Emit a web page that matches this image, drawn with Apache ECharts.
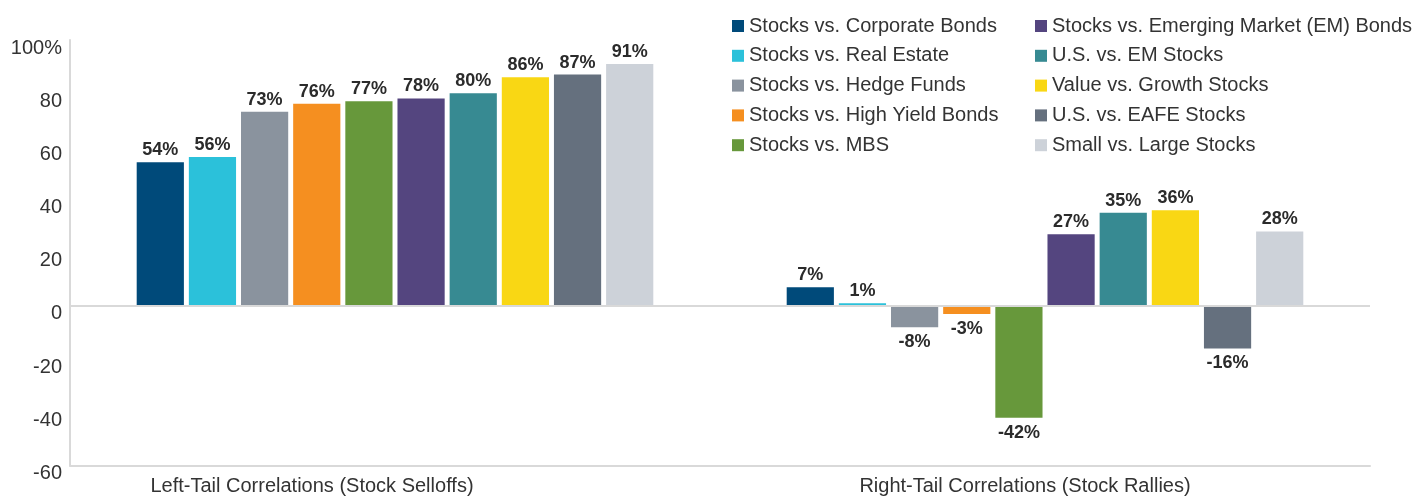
<!DOCTYPE html>
<html>
<head>
<meta charset="utf-8">
<script src="https://cdn.jsdelivr.net/npm/echarts@6/dist/echarts.min.js"></script>
<style>
html,body{margin:0;padding:0;background:#fff;}
#chart{width:1416px;height:502px;}
</style>
</head>
<body>
<div id="chart"></div>
<script>
// ---- Data ----
const categories = ['Left-Tail Correlations (Stock Selloffs)', 'Right-Tail Correlations (Stock Rallies)'];
const seriesNames = [
  'Stocks vs. Corporate Bonds',
  'Stocks vs. Real Estate',
  'Stocks vs. Hedge Funds',
  'Stocks vs. High Yield Bonds',
  'Stocks vs. MBS',
  'Stocks vs. Emerging Market (EM) Bonds',
  'U.S. vs. EM Stocks',
  'Value vs. Growth Stocks',
  'U.S. vs. EAFE Stocks',
  'Small vs. Large Stocks'
];
const leftTail  = [54, 56, 73, 76, 77, 78, 80, 86, 87, 91];
const rightTail = [7, 1, -8, -3, -42, 27, 35, 36, -16, 28];
const colors = ['#004a7a', '#2bc1da', '#8a939e', '#f58f20', '#67983b', '#54457f', '#378a92', '#f9d714', '#65707e', '#cdd2d9'];
const yTicks = { min: -60, max: 100, interval: 20 };

// ---- Chart ----
const chart = echarts.init(document.getElementById('chart'), null, { renderer: 'canvas' });
const font = "'Liberation Sans', Arial, Helvetica, sans-serif";

const series = seriesNames.map((name, i) => {
  const vals = [leftTail[i], rightTail[i]];
  const s = {
    name: name,
    type: 'bar',
    barWidth: 47.2,
    barGap: '10.5%',
    itemStyle: { color: colors[i] },
    label: {
      show: true,
      position: 'top',
      distance: 3,
      formatter: p => p.value + '%',
      fontFamily: font,
      fontWeight: 'bold',
      fontSize: 18,
      color: '#2b2b2b'
    },
    data: vals.map(v => ({
      value: v,
      label: v < 0 ? { position: 'bottom', distance: 6 } : { position: 'top' }
    }))
  };
  if (i === 0) {
    s.markLine = {
      silent: true,
      symbol: ['none', 'none'],
      label: { show: false },
      lineStyle: { color: '#d9d9d9', width: 2, type: 'solid' },
      data: [{ yAxis: 0 }]
    };
  }
  return s;
});

const legendBase = {
  orient: 'vertical',
  top: 11,
  itemWidth: 12, itemHeight: 12, itemGap: 9.8,
  icon: 'rect',
  selectedMode: false,
  textStyle: { fontSize: 20, color: '#333', lineHeight: 20, fontFamily: font }
};

const option = {
  animation: false,
  textStyle: { fontFamily: font },
  color: colors,
  grid: { left: 70, right: 46, top: 40, bottom: 36.5, containLabel: false },
  legend: [
    Object.assign({}, legendBase, { data: seriesNames.slice(0, 5), left: 727 }),
    Object.assign({}, legendBase, { data: seriesNames.slice(5), left: 1030 })
  ],
  xAxis: {
    type: 'category',
    data: [
      { value: categories[0], textStyle: { padding: [0, 166, 0, 0] } },
      { value: categories[1], textStyle: { padding: [0, 40, 0, 0] } }
    ],
    axisLine: { onZero: false, lineStyle: { color: '#d9d9d9', width: 2 } },
    axisTick: { show: false },
    axisLabel: { fontSize: 20, color: '#333', margin: 11, fontFamily: font }
  },
  yAxis: {
    type: 'value',
    min: yTicks.min, max: yTicks.max, interval: yTicks.interval,
    axisLine: { show: true, lineStyle: { color: '#d9d9d9', width: 2 } },
    axisTick: { show: false },
    splitLine: { show: false },
    axisLabel: {
      fontSize: 20, color: '#333', margin: 8, fontFamily: font,
      verticalAlign: 'top', lineHeight: 16,
      formatter: v => v === 100 ? '100%' : String(v)
    }
  },
  series: series
};
chart.setOption(option);
</script>
</body>
</html>
